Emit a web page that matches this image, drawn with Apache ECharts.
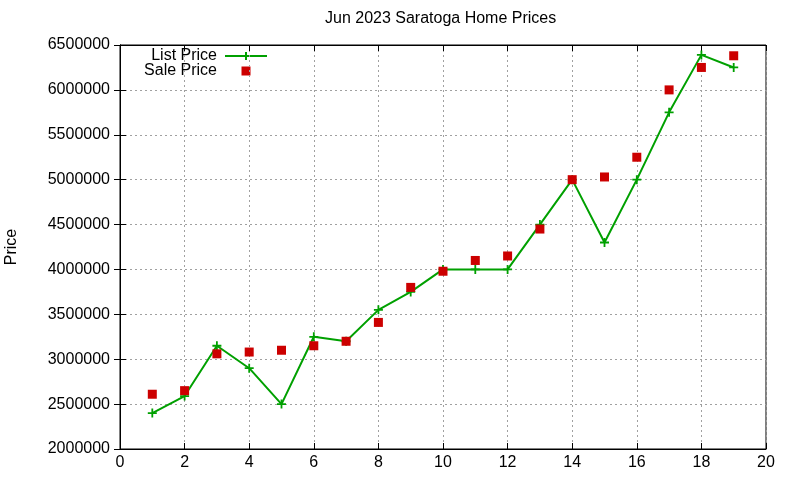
<!DOCTYPE html>
<html><head><meta charset="utf-8">
<script src="https://cdn.jsdelivr.net/npm/echarts@6/dist/echarts.min.js"></script>
<style>html,body{margin:0;padding:0;background:#fff}#c{width:800px;height:480px}</style>
</head><body><div id="c"></div>
<script>
const xValues = [1,2,3,4,5,6,7,8,9,10,11,12,13,14,15,16,17,18,19];
const listPrice = [2400000,2590000,3150000,2900000,2500000,3250000,3200000,3550000,3750000,4000000,4000000,4000000,4500000,5000000,4300000,5000000,5750000,6390000,6250000];
const salePrice = [2610000,2650000,3060000,3080000,3100000,3150000,3200000,3410000,3800000,3980000,4100000,4150000,4450000,5000000,5030000,5250000,6000000,6250000,6380000];
const titleText = 'Jun 2023 Saratoga Home Prices';
const seriesNames = ['List Price','Sale Price'];

const GREEN = '#00a000', RED = '#cc0000';
const FONT = 'Liberation Sans, Arial, sans-serif';
const FS = 16;
const plus = 'path://M3.2,0H4.8V3.2H8V4.8H4.8V8H3.2V4.8H0V3.2H3.2Z';
const chart = echarts.init(document.getElementById('c'));
const gridLine = {show:true, lineStyle:{color:'#a0a0a0', type:[2,3], width:1}};
chart.setOption({
  animation:false,
  title:{text:titleText, left:325, top:11, padding:0,
    textStyle:{fontFamily:FONT, fontSize:FS, fontWeight:'normal', color:'#000'}},
  grid:{left:120, right:34, top:45, bottom:31, show:true, borderColor:'#000', borderWidth:1,
    containLabel:false, outerBoundsMode:'none'},
  xAxis:[{type:'value', min:0, max:20, interval:2,
    axisLine:{show:true, lineStyle:{color:'#000'}},
    axisTick:{inside:true, length:6, lineStyle:{color:'#000'}},
    axisLabel:{fontFamily:FONT, fontSize:FS, color:'#000', margin:6},
    splitLine:gridLine},
   {type:'value', min:0, max:20, interval:2, position:'top',
    axisLine:{show:true, lineStyle:{color:'#000'}},
    axisTick:{inside:true, length:6, lineStyle:{color:'#000'}},
    axisLabel:{show:false}, splitLine:{show:false}}],
  yAxis:[{type:'value', min:2000000, max:6500000, interval:500000,
    name:'Price', nameLocation:'middle', nameGap:100, nameRotate:90,
    nameTextStyle:{fontFamily:FONT, fontSize:FS, color:'#000'},
    axisLine:{show:true, lineStyle:{color:'#000'}},
    axisTick:{inside:true, length:6, lineStyle:{color:'#000'}},
    axisLabel:{fontFamily:FONT, fontSize:FS, color:'#000', margin:10, formatter:v=>String(v)},
    splitLine:gridLine},
   {type:'value', min:2000000, max:6500000, interval:500000, position:'right',
    axisLine:{show:true, lineStyle:{color:'#000'}},
    axisTick:{inside:true, length:6, lineStyle:{color:'#000'}},
    axisLabel:{show:false}, splitLine:{show:false}}],
  graphic:[
    {type:'text', right:800-217, top:48, style:{text:seriesNames[0], font:FS+'px '+FONT, fill:'#000'}},
    {type:'text', right:800-217, top:63, style:{text:seriesNames[1], font:FS+'px '+FONT, fill:'#000'}},
    {type:'line', shape:{x1:225, y1:56, x2:267, y2:56}, style:{stroke:GREEN, lineWidth:2}},
    {type:'line', shape:{x1:246, y1:52, x2:246, y2:60}, style:{stroke:GREEN, lineWidth:2}},
    {type:'rect', shape:{x:241.5, y:66.5, width:9, height:9}, style:{fill:RED}}
  ],
  series:[
    {name:seriesNames[0], type:'line', data:xValues.map((x,i)=>[x,listPrice[i]]),
      symbol:plus, symbolSize:9, showAllSymbol:true,
      lineStyle:{color:GREEN, width:2}, itemStyle:{color:GREEN, opacity:1}, z:2},
    {name:seriesNames[1], type:'scatter', data:xValues.map((x,i)=>[x,salePrice[i]]),
      symbol:'rect', symbolSize:9, itemStyle:{color:RED, opacity:1}, z:3}
  ]
});
</script></body></html>
